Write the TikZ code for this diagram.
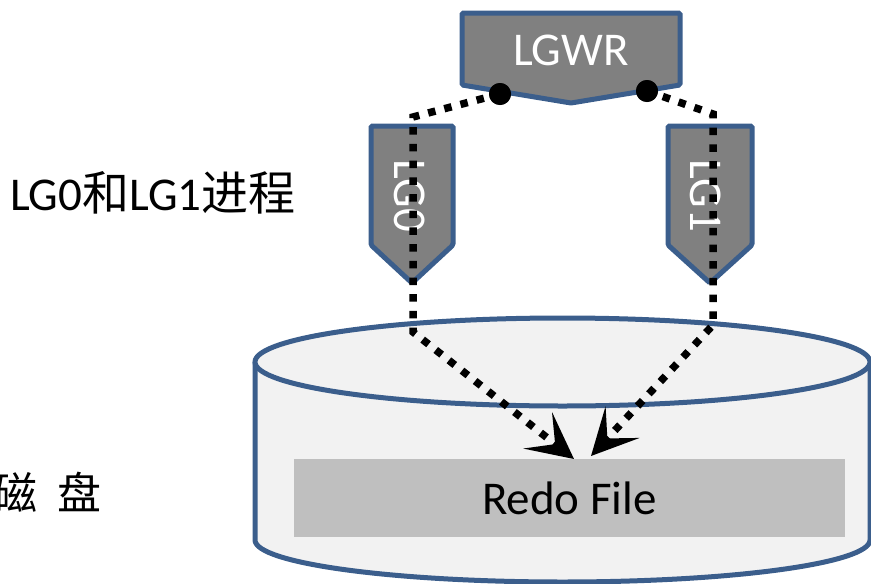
\documentclass[tikz,border=0pt]{standalone}
\usepackage{fontspec}
\setmainfont{Carlito}
\newfontfamily\cjk{Noto Sans CJK SC}
\usetikzlibrary{arrows.meta,positioning}
\definecolor{edgeblue}{HTML}{3B5E8C}
\definecolor{procgray}{HTML}{808080}
\definecolor{diskfill}{HTML}{F2F2F2}
\definecolor{filegray}{HTML}{BFBFBF}
\begin{document}
\begin{tikzpicture}[x=1pt, y=-1pt,
    proc/.style={draw=edgeblue, fill=procgray, line width=5pt, rounded corners=1.5pt},
    ptext/.style={text=white, inner sep=0pt, font=\fontsize{47}{47}\selectfont},
    disk/.style={draw=edgeblue, fill=diskfill, line width=5pt},
    dotlink/.style={line width=7.5pt, dash pattern=on 7.5pt off 9.2pt,
        -{Stealth[length=46pt, width=46pt, inset=22pt]}},
    joint/.style={circle, fill=black, inner sep=0pt, minimum size=22pt},
    label/.style={inner sep=0pt, font=\fontsize{47}{47}\selectfont}
]
\useasboundingbox (0,0) rectangle (871,584);

% disk
\fill[diskfill] (255,362) -- (255,540) arc[start angle=180, end angle=360, x radius=307.5, y radius=-42] -- (870,362) -- cycle;
\draw[disk, fill=none] (255,362) -- (255,540) arc[start angle=180, end angle=360, x radius=307.5, y radius=-42] -- (870,362);
\draw[disk] (562.5,362) ellipse[x radius=307.5, y radius=44];
\fill[filegray] (294,459) rectangle (845,537);
\node[label] (redo) at (569.5,498) {Redo File};

% processes
\draw[proc] (371,126) -- (453,126) -- (453,245) -- (412,283) -- (371,245) -- cycle;
\draw[proc] (668,126) -- (752,126) -- (752,245) -- (710,283) -- (668,245) -- cycle;
\draw[proc] (462,13) -- (680,13) -- (680,85) -- (571,103) -- (462,85) -- cycle;
\node[ptext] (lgwr) at (571,50) {LGWR};
\node[ptext, rotate=-90] (lg0) at (410,196) {LG0};
\node[ptext, rotate=-90] (lg1) at (706,196) {LG1};

% links
\node[joint] (jointL) at (500,94) {};
\node[joint] (jointR) at (647,91) {};
\coordinate (bendLa) at (413,117);
\coordinate (bendLb) at (413,332);
\coordinate (bendRa) at (713,114);
\coordinate (bendRb) at (713,325);
\coordinate (tipL) at (574,459);
\coordinate (tipR) at (591,456);
\draw[dotlink] (jointL.center) -- (bendLa) -- (bendLb) -- (tipL);
\draw[dotlink] (jointR.center) -- (bendRa) -- (bendRb) -- (tipR);
\node[joint] at (jointL) {};
\node[joint] at (jointR) {};

% side labels
\node[label, anchor=west] (proclabel) at (10,193) {LG0{\cjk 和}LG1{\cjk 进程}};
\node[label, anchor=west, font=\fontsize{44}{44}\selectfont] (disklabel) at (-7,492) {\cjk 磁\hspace{20pt}盘};
\end{tikzpicture}
\end{document}
